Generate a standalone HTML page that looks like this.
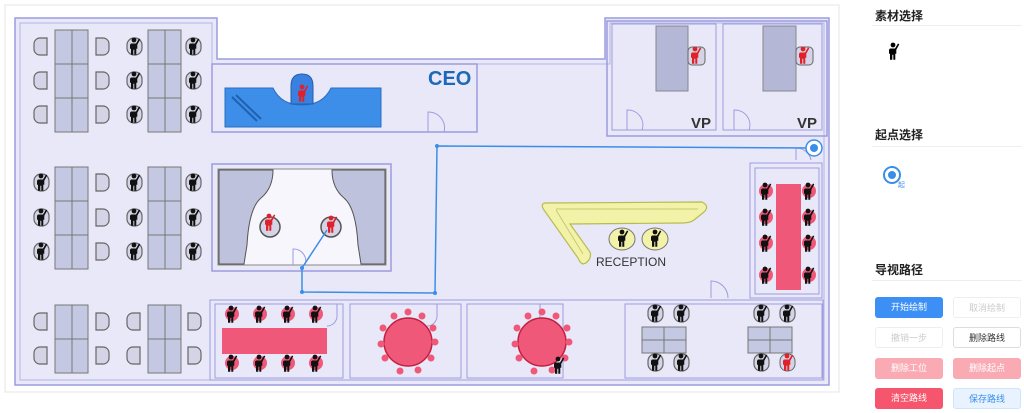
<!DOCTYPE html>
<html><head><meta charset="utf-8"><style>
body{margin:0;width:1024px;height:413px;background:#fff;font-family:"Liberation Sans","Noto Sans CJK SC",sans-serif;overflow:hidden;position:relative}
.t{position:absolute;left:875px;font-size:12px;font-weight:bold;color:#222}
.ln{position:absolute;left:872px;width:150px;height:1px;background:#eee}
.b{position:absolute;width:68px;height:21px;border-radius:3px;font-size:9px;line-height:21px;text-align:center;box-sizing:border-box}
</style></head><body>
<svg width="845" height="400" style="position:absolute;left:0;top:0">
<defs>
<symbol id="p" viewBox="0 0 14 18"><circle cx="6" cy="3" r="2.4"/><path d="M3 6.5h5l3-5 1.3.8-3 5.5v4h-1v6h-2v-5h-1v5H3v-6H2v-4z"/></symbol>
<g id="chair"><path d="M2 0h7a6 6 0 0 1 6 6v5a6 6 0 0 1-6 6H2z" fill="#d4d4e6" stroke="#666" stroke-width="1.2"/></g>
<g id="chairL"><path d="M13 0H6a6 6 0 0 0-6 6v5a6 6 0 0 0 6 6h7z" fill="#d4d4e6" stroke="#666" stroke-width="1.2"/></g>
<g id="pc"><rect x="0" y="0" width="15" height="17" rx="7" fill="#d4d4e6" stroke="#666" stroke-width="1.2"/><use href="#p" x="1" y="-1" width="14" height="18" fill="#111"/></g>
<g id="pk"><circle cx="8" cy="9" r="7" fill="#f0587a"/><use href="#p" x="1" y="0" width="14" height="18" fill="#111"/></g>
</defs>
<rect x="5" y="5" width="834" height="387" fill="#fff" stroke="#e6e6e6"/>
<path d="M15 18H217V59H605V18H829V385H15Z" fill="#e8e8f8" stroke="#9c9ce0" stroke-width="1.5"/>
<path d="M20 23H212V64H610V23H824V380H20Z" fill="none" stroke="#b4b4ea" stroke-width="1"/>
<!-- CEO room -->
<rect x="212" y="64" width="265" height="68" fill="#e8e8f8" stroke="#9c9ce0" stroke-width="1.5"/>
<path d="M225 88h48q8 17 29 17t29-17h50v39h-156z" fill="#3c8ee8" stroke="#2a6fc0"/>
<path d="M291 86q0-12 11-12q11 0 11 12v18h-22z" fill="#3a80e0" stroke="#1f5fb0"/>
<use href="#p" x="296" y="84" width="14" height="18" fill="#e0202a"/>
<path d="M232 97l25 24M236 95l25 24" stroke="#2060b0" stroke-width="2"/>
<text x="428" y="85" font-size="20" font-weight="bold" fill="#1d68b8">CEO</text>
<path d="M428 132v-20a16 16 0 0 1 16 20" fill="none" stroke="#9c9ce0"/>
<!-- VP rooms -->
<rect x="607" y="21" width="220" height="115" fill="none" stroke="#9c9ce0" stroke-width="1.5"/>
<rect x="612" y="24" width="104" height="106" fill="#e8e8f8" stroke="#9c9ce0"/>
<rect x="723" y="24" width="99" height="106" fill="#e8e8f8" stroke="#9c9ce0"/>
<rect x="656" y="26" width="32" height="65" fill="#b4b8d6" stroke="#888"/>
<rect x="763" y="26" width="33" height="65" fill="#b4b8d6" stroke="#888"/>
<rect x="688" y="47" width="17" height="18" rx="4" fill="#d4d4e6" stroke="#666"/>
<rect x="796" y="47" width="17" height="18" rx="4" fill="#d4d4e6" stroke="#666"/>
<use href="#p" x="689" y="46" width="14" height="18" fill="#e0202a"/>
<use href="#p" x="797" y="46" width="14" height="18" fill="#e0202a"/>
<text x="691" y="128" font-size="15" font-weight="bold" fill="#333">VP</text>
<text x="797" y="128" font-size="15" font-weight="bold" fill="#333">VP</text>
<path d="M627 130v-20a15 15 0 0 1 15 20M734 130v-20a15 15 0 0 1 15 20" fill="none" stroke="#9c9ce0"/>
<!-- left workstations -->
<g fill="#c4c8e2" stroke="#777">
<rect x="55" y="30" width="17" height="34"/><rect x="72" y="30" width="16" height="34"/><rect x="55" y="64" width="17" height="34"/><rect x="72" y="64" width="16" height="34"/><rect x="55" y="98" width="17" height="34"/><rect x="72" y="98" width="16" height="34"/>
<rect x="148" y="30" width="17" height="34"/><rect x="165" y="30" width="16" height="34"/><rect x="148" y="64" width="17" height="34"/><rect x="165" y="64" width="16" height="34"/><rect x="148" y="98" width="17" height="34"/><rect x="165" y="98" width="16" height="34"/>
<rect x="55" y="167" width="17" height="34"/><rect x="72" y="167" width="16" height="34"/><rect x="55" y="201" width="17" height="34"/><rect x="72" y="201" width="16" height="34"/><rect x="55" y="235" width="17" height="34"/><rect x="72" y="235" width="16" height="34"/>
<rect x="148" y="167" width="17" height="34"/><rect x="165" y="167" width="16" height="34"/><rect x="148" y="201" width="17" height="34"/><rect x="165" y="201" width="16" height="34"/><rect x="148" y="235" width="17" height="34"/><rect x="165" y="235" width="16" height="34"/>
<rect x="55" y="305" width="17" height="34"/><rect x="72" y="305" width="16" height="34"/><rect x="55" y="339" width="17" height="34"/><rect x="72" y="339" width="16" height="34"/>
<rect x="148" y="305" width="17" height="34"/><rect x="165" y="305" width="16" height="34"/><rect x="148" y="339" width="17" height="34"/><rect x="165" y="339" width="16" height="34"/>
</g>
<g>
<use href="#chairL" x="34" y="38"/><use href="#chairL" x="34" y="72"/><use href="#chairL" x="34" y="106"/>
<use href="#chair" x="94" y="38"/><use href="#chair" x="94" y="72"/><use href="#chair" x="94" y="106"/>
<use href="#pc" x="127" y="38"/><use href="#pc" x="127" y="72"/><use href="#pc" x="127" y="106"/>
<use href="#pc" x="186" y="38"/><use href="#pc" x="186" y="72"/><use href="#pc" x="186" y="106"/>
<use href="#pc" x="34" y="174"/><use href="#pc" x="34" y="209"/><use href="#pc" x="34" y="243"/>
<use href="#chair" x="94" y="174"/><use href="#chair" x="94" y="209"/><use href="#chair" x="94" y="243"/>
<use href="#pc" x="127" y="174"/><use href="#pc" x="127" y="209"/><use href="#pc" x="127" y="243"/>
<use href="#pc" x="186" y="174"/><use href="#pc" x="186" y="209"/><use href="#pc" x="186" y="243"/>
<use href="#chairL" x="34" y="313"/><use href="#chairL" x="34" y="347"/><use href="#chair" x="94" y="313"/><use href="#chair" x="94" y="347"/>
<use href="#chairL" x="127" y="313"/><use href="#chairL" x="127" y="347"/><use href="#chair" x="186" y="313"/><use href="#chair" x="186" y="347"/>
</g>
<!-- conference -->
<rect x="212" y="164" width="179" height="107" fill="#e8e8f8" stroke="#9c9ce0" stroke-width="1.5"/>
<rect x="218" y="169" width="168" height="96" fill="#f6f6fc" stroke="#888"/>
<path d="M219 170h54q0 18-12 28t-14 47l-3 19h-25z" fill="#bfc2dc" stroke="#555"/>
<path d="M385 170h-53q0 18 12 28t14 47l3 19h24z" fill="#bfc2dc" stroke="#555"/>
<circle cx="270" cy="227" r="10" fill="#d4d4e6" stroke="#555" stroke-width="1.5"/><circle cx="331" cy="227" r="10" fill="#d4d4e6" stroke="#555" stroke-width="1.5"/>
<use href="#p" x="263" y="213" width="14" height="18" fill="#e0202a"/><use href="#p" x="325" y="215" width="14" height="18" fill="#e0202a"/>
<path d="M293 265v-16a12 12 0 0 1 12 16" fill="none" stroke="#9c9ce0"/>
<!-- right meeting -->
<rect x="750" y="163" width="72" height="135" fill="#e8e8f8" stroke="#9c9ce0"/>
<rect x="755" y="168" width="64" height="126" fill="none" stroke="#9c9ce0"/>
<rect x="776" y="184" width="25" height="106" fill="#f0587a"/>
<use href="#pk" x="758" y="182"/><use href="#pk" x="758" y="208"/><use href="#pk" x="758" y="234"/><use href="#pk" x="758" y="266"/>
<use href="#pk" x="801" y="182"/><use href="#pk" x="801" y="208"/><use href="#pk" x="801" y="234"/><use href="#pk" x="801" y="266"/>
<path d="M711 298v-17a17 17 0 0 1 17 17M796 160v-12a15 15 0 0 1 15 12" fill="none" stroke="#9c9ce0"/>
<!-- reception -->
<path d="M545 203L702 202Q710 206 704 212L694 220Q690 223 682 223L570 224L590 252Q592 258 586 263L583 264Q580 263 578 258L544 210Q540 204 545 203Z" fill="#f2f3a8" stroke="#b9bb50" stroke-width="1.2"/>
<path d="M556 209L698 209M556 210L583 254" stroke="#c8c970" fill="none"/>
<ellipse cx="622" cy="239" rx="13" ry="11" fill="#f2f3a8" stroke="#777"/><ellipse cx="655" cy="239" rx="13" ry="11" fill="#f2f3a8" stroke="#777"/>
<use href="#p" x="616" y="229" width="14" height="18" fill="#111"/><use href="#p" x="649" y="229" width="14" height="18" fill="#111"/>
<text x="596" y="266" font-size="12" fill="#333">RECEPTION</text>
<!-- bottom rooms -->
<g fill="#e8e8f8" stroke="#9c9ce0">
<rect x="210" y="300" width="613" height="80" fill="none"/>
<rect x="215" y="304" width="128" height="74"/><rect x="350" y="304" width="111" height="74"/><rect x="467" y="304" width="96" height="74"/><rect x="625" y="304" width="197" height="74"/>
</g>
<path d="M337 304v12a10 10 0 0 1-10 10M437 304v12a10 10 0 0 1-10 10M540 304v12a10 10 0 0 1-10 10" fill="none" stroke="#9c9ce0"/>
<rect x="222" y="328" width="105" height="26" fill="#f0587a"/>
<use href="#pk" x="224" y="305"/><use href="#pk" x="252" y="305"/><use href="#pk" x="280" y="305"/><use href="#pk" x="308" y="305"/>
<use href="#pk" x="224" y="354"/><use href="#pk" x="252" y="354"/><use href="#pk" x="280" y="354"/><use href="#pk" x="308" y="354"/>
<g fill="#f0587a"><circle cx="408" cy="342" r="24" stroke="#c02040" stroke-width="1.5"/><circle cx="542" cy="342" r="24" stroke="#c02040" stroke-width="1.5"/>
<circle cx="408" cy="312" r="3.5"/><circle cx="422" cy="316" r="3.5"/><circle cx="394" cy="316" r="3.5"/><circle cx="433" cy="328" r="3.5"/><circle cx="383" cy="328" r="3.5"/><circle cx="435" cy="342" r="3.5"/><circle cx="381" cy="344" r="3.5"/><circle cx="431" cy="358" r="3.5"/><circle cx="385" cy="358" r="3.5"/><circle cx="418" cy="370" r="3.5"/><circle cx="400" cy="371" r="3.5"/>
<circle cx="542" cy="312" r="3.5"/><circle cx="556" cy="316" r="3.5"/><circle cx="528" cy="316" r="3.5"/><circle cx="567" cy="328" r="3.5"/><circle cx="517" cy="328" r="3.5"/><circle cx="569" cy="342" r="3.5"/><circle cx="515" cy="344" r="3.5"/><circle cx="565" cy="358" r="3.5"/><circle cx="519" cy="358" r="3.5"/><circle cx="552" cy="370" r="3.5"/><circle cx="534" cy="371" r="3.5"/></g>
<use href="#p" x="552" y="356" width="14" height="18" fill="#111"/>
<g fill="#c4c8e2" stroke="#777"><rect x="642" y="327" width="22" height="13"/><rect x="664" y="327" width="22" height="13"/><rect x="642" y="340" width="22" height="13"/><rect x="664" y="340" width="22" height="13"/>
<rect x="748" y="327" width="22" height="13"/><rect x="770" y="327" width="22" height="13"/><rect x="748" y="340" width="22" height="13"/><rect x="770" y="340" width="22" height="13"/></g>
<use href="#pc" x="648" y="305"/><use href="#pc" x="674" y="305"/><use href="#pc" x="648" y="354"/><use href="#pc" x="674" y="354"/>
<use href="#pc" x="754" y="305"/><use href="#pc" x="780" y="305"/><use href="#pc" x="754" y="354"/>
<rect x="780" y="354" width="15" height="17" rx="7" fill="#d4d4e6" stroke="#666"/><use href="#p" x="781" y="353" width="14" height="18" fill="#e0202a"/>
<!-- path -->
<polyline points="817,148 437,146 435,293 302,292 302,268 327,230" fill="none" stroke="#3b8ee8" stroke-width="1.5"/>
<g fill="#3b8ee8"><circle cx="437" cy="146" r="2"/><circle cx="435" cy="293" r="2"/><circle cx="302" cy="292" r="2"/><circle cx="302" cy="268" r="2"/></g>
<circle cx="814" cy="148" r="8" fill="#fff" stroke="#3b8ee8" stroke-width="1.5"/><circle cx="814" cy="148" r="4" fill="#3b8ee8"/>
</svg>
<div class="t" style="top:7px">素材选择</div><div class="ln" style="top:25px"></div>
<svg style="position:absolute;left:887px;top:41px" width="14" height="20" viewBox="0 0 14 18"><circle cx="6" cy="3" r="2.4"/><path d="M3 6.5h5l3-5 1.3.8-3 5.5v4h-1v6h-2v-5h-1v5H3v-6H2v-4z"/></svg>
<div class="t" style="top:126px">起点选择</div><div class="ln" style="top:146px"></div>
<svg style="position:absolute;left:880px;top:165px" width="30" height="24"><circle cx="12" cy="10" r="8" fill="#fff" stroke="#3b8ee8" stroke-width="2"/><circle cx="12" cy="10" r="4" fill="#3b8ee8"/><text x="18" y="22" font-size="7" fill="#3b8ee8">起</text></svg>
<div class="t" style="top:261px">导视路径</div><div class="ln" style="top:280px"></div>
<div class="b" style="left:875px;top:297px;background:#3b8ff5;color:#fff">开始绘制</div>
<div class="b" style="left:953px;top:297px;border:1px solid #eee;color:#ccc">取消绘制</div>
<div class="b" style="left:875px;top:327px;border:1px solid #eee;color:#ccc">撤销一步</div>
<div class="b" style="left:953px;top:327px;border:1px solid #ddd;color:#333">删除路线</div>
<div class="b" style="left:875px;top:358px;background:#f9aab3;color:#fff">删除工位</div>
<div class="b" style="left:953px;top:358px;background:#f9aab3;color:#fff">删除起点</div>
<div class="b" style="left:875px;top:388px;background:#f5556d;color:#fff">清空路线</div>
<div class="b" style="left:953px;top:388px;background:#e8f3ff;color:#3b8ee8;border:1px solid #d0e4fa">保存路线</div>
</body></html>
